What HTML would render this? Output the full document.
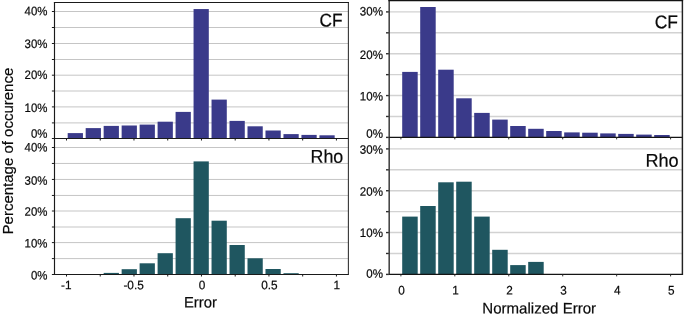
<!DOCTYPE html>
<html lang="en">
<head>
<meta charset="utf-8">
<title>Error histograms</title>
<style>
html,body{margin:0;padding:0;background:#fff;}
body{width:685px;height:315px;overflow:hidden;}
svg{display:block;}
svg text{font-family:"Liberation Sans", sans-serif;fill:#0a0a0a;stroke:#0a0a0a;stroke-width:0.2px;}
</style>
</head>
<body>
<svg width="685" height="315" viewBox="0 0 685 315">
<rect x="0" y="0" width="685" height="315" fill="#ffffff"/>
<g class="grid">
<line x1="54.50" y1="122.90" x2="348.40" y2="122.90" stroke="#c5c5c5" stroke-width="1.0"/>
<line x1="54.50" y1="106.90" x2="348.40" y2="106.90" stroke="#c5c5c5" stroke-width="1.0"/>
<line x1="54.50" y1="91.00" x2="348.40" y2="91.00" stroke="#c5c5c5" stroke-width="1.0"/>
<line x1="54.50" y1="75.20" x2="348.40" y2="75.20" stroke="#c5c5c5" stroke-width="1.0"/>
<line x1="54.50" y1="59.50" x2="348.40" y2="59.50" stroke="#c5c5c5" stroke-width="1.0"/>
<line x1="54.50" y1="43.50" x2="348.40" y2="43.50" stroke="#c5c5c5" stroke-width="1.0"/>
<line x1="54.50" y1="27.50" x2="348.40" y2="27.50" stroke="#c5c5c5" stroke-width="1.0"/>
<line x1="54.50" y1="11.50" x2="348.40" y2="11.50" stroke="#c5c5c5" stroke-width="1.0"/>
</g>
<g class="bars">
<rect x="67.70" y="133.10" width="15.25" height="5.40" fill="#3a3a8a"/>
<rect x="85.68" y="128.10" width="15.25" height="10.40" fill="#3a3a8a"/>
<rect x="103.66" y="125.90" width="15.25" height="12.60" fill="#3a3a8a"/>
<rect x="121.64" y="125.50" width="15.25" height="13.00" fill="#3a3a8a"/>
<rect x="139.62" y="124.60" width="15.25" height="13.90" fill="#3a3a8a"/>
<rect x="157.60" y="121.70" width="15.25" height="16.80" fill="#3a3a8a"/>
<rect x="175.58" y="111.90" width="15.25" height="26.60" fill="#3a3a8a"/>
<rect x="193.56" y="9.05" width="15.25" height="129.45" fill="#3a3a8a"/>
<rect x="211.54" y="99.60" width="15.25" height="38.90" fill="#3a3a8a"/>
<rect x="229.52" y="120.90" width="15.25" height="17.60" fill="#3a3a8a"/>
<rect x="247.50" y="126.30" width="15.25" height="12.20" fill="#3a3a8a"/>
<rect x="265.48" y="130.50" width="15.25" height="8.00" fill="#3a3a8a"/>
<rect x="283.46" y="134.10" width="15.25" height="4.40" fill="#3a3a8a"/>
<rect x="301.44" y="134.90" width="15.25" height="3.60" fill="#3a3a8a"/>
<rect x="319.42" y="135.30" width="15.25" height="3.20" fill="#3a3a8a"/>
</g>
<g class="yticks">
<line x1="51.90" y1="138.50" x2="54.50" y2="138.50" stroke="#1a1a1a" stroke-width="1.0"/>
<line x1="51.90" y1="122.90" x2="54.50" y2="122.90" stroke="#1a1a1a" stroke-width="1.0"/>
<line x1="51.90" y1="106.90" x2="54.50" y2="106.90" stroke="#1a1a1a" stroke-width="1.0"/>
<line x1="51.90" y1="91.00" x2="54.50" y2="91.00" stroke="#1a1a1a" stroke-width="1.0"/>
<line x1="51.90" y1="75.20" x2="54.50" y2="75.20" stroke="#1a1a1a" stroke-width="1.0"/>
<line x1="51.90" y1="59.50" x2="54.50" y2="59.50" stroke="#1a1a1a" stroke-width="1.0"/>
<line x1="51.90" y1="43.50" x2="54.50" y2="43.50" stroke="#1a1a1a" stroke-width="1.0"/>
<line x1="51.90" y1="27.50" x2="54.50" y2="27.50" stroke="#1a1a1a" stroke-width="1.0"/>
<line x1="51.90" y1="11.50" x2="54.50" y2="11.50" stroke="#1a1a1a" stroke-width="1.0"/>
</g>
<g class="grid">
<line x1="54.50" y1="258.60" x2="348.40" y2="258.60" stroke="#c5c5c5" stroke-width="1.0"/>
<line x1="54.50" y1="242.60" x2="348.40" y2="242.60" stroke="#c5c5c5" stroke-width="1.0"/>
<line x1="54.50" y1="227.00" x2="348.40" y2="227.00" stroke="#c5c5c5" stroke-width="1.0"/>
<line x1="54.50" y1="211.00" x2="348.40" y2="211.00" stroke="#c5c5c5" stroke-width="1.0"/>
<line x1="54.50" y1="195.45" x2="348.40" y2="195.45" stroke="#c5c5c5" stroke-width="1.0"/>
<line x1="54.50" y1="179.45" x2="348.40" y2="179.45" stroke="#c5c5c5" stroke-width="1.0"/>
<line x1="54.50" y1="163.45" x2="348.40" y2="163.45" stroke="#c5c5c5" stroke-width="1.0"/>
<line x1="54.50" y1="147.50" x2="348.40" y2="147.50" stroke="#c5c5c5" stroke-width="1.0"/>
</g>
<g class="bars">
<rect x="103.66" y="272.90" width="15.25" height="1.60" fill="#1f5660"/>
<rect x="121.64" y="269.20" width="15.25" height="5.30" fill="#1f5660"/>
<rect x="139.62" y="263.30" width="15.25" height="11.20" fill="#1f5660"/>
<rect x="157.60" y="253.20" width="15.25" height="21.30" fill="#1f5660"/>
<rect x="175.58" y="218.20" width="15.25" height="56.30" fill="#1f5660"/>
<rect x="193.56" y="161.40" width="15.25" height="113.10" fill="#1f5660"/>
<rect x="211.54" y="220.70" width="15.25" height="53.80" fill="#1f5660"/>
<rect x="229.52" y="245.00" width="15.25" height="29.50" fill="#1f5660"/>
<rect x="247.50" y="258.30" width="15.25" height="16.20" fill="#1f5660"/>
<rect x="265.48" y="269.00" width="15.25" height="5.50" fill="#1f5660"/>
<rect x="283.46" y="273.20" width="15.25" height="1.30" fill="#1f5660"/>
</g>
<g class="yticks">
<line x1="51.90" y1="274.50" x2="54.50" y2="274.50" stroke="#1a1a1a" stroke-width="1.0"/>
<line x1="51.90" y1="258.60" x2="54.50" y2="258.60" stroke="#1a1a1a" stroke-width="1.0"/>
<line x1="51.90" y1="242.60" x2="54.50" y2="242.60" stroke="#1a1a1a" stroke-width="1.0"/>
<line x1="51.90" y1="227.00" x2="54.50" y2="227.00" stroke="#1a1a1a" stroke-width="1.0"/>
<line x1="51.90" y1="211.00" x2="54.50" y2="211.00" stroke="#1a1a1a" stroke-width="1.0"/>
<line x1="51.90" y1="195.45" x2="54.50" y2="195.45" stroke="#1a1a1a" stroke-width="1.0"/>
<line x1="51.90" y1="179.45" x2="54.50" y2="179.45" stroke="#1a1a1a" stroke-width="1.0"/>
<line x1="51.90" y1="163.45" x2="54.50" y2="163.45" stroke="#1a1a1a" stroke-width="1.0"/>
<line x1="51.90" y1="147.50" x2="54.50" y2="147.50" stroke="#1a1a1a" stroke-width="1.0"/>
</g>
<g class="grid">
<line x1="389.20" y1="116.48" x2="682.40" y2="116.48" stroke="#d2d2d2" stroke-width="1.4"/>
<line x1="389.20" y1="95.57" x2="682.40" y2="95.57" stroke="#d2d2d2" stroke-width="1.4"/>
<line x1="389.20" y1="74.65" x2="682.40" y2="74.65" stroke="#d2d2d2" stroke-width="1.4"/>
<line x1="389.20" y1="53.73" x2="682.40" y2="53.73" stroke="#d2d2d2" stroke-width="1.4"/>
<line x1="389.20" y1="32.82" x2="682.40" y2="32.82" stroke="#d2d2d2" stroke-width="1.4"/>
<line x1="389.20" y1="11.90" x2="682.40" y2="11.90" stroke="#d2d2d2" stroke-width="1.4"/>
</g>
<g class="bars">
<rect x="402.20" y="71.90" width="15.50" height="65.50" fill="#3a3a8a"/>
<rect x="420.20" y="7.00" width="15.50" height="130.40" fill="#3a3a8a"/>
<rect x="438.20" y="69.70" width="15.50" height="67.70" fill="#3a3a8a"/>
<rect x="456.20" y="98.30" width="15.50" height="39.10" fill="#3a3a8a"/>
<rect x="474.20" y="112.90" width="15.50" height="24.50" fill="#3a3a8a"/>
<rect x="492.20" y="119.60" width="15.50" height="17.80" fill="#3a3a8a"/>
<rect x="510.20" y="126.00" width="15.50" height="11.40" fill="#3a3a8a"/>
<rect x="528.20" y="128.80" width="15.50" height="8.60" fill="#3a3a8a"/>
<rect x="546.20" y="131.00" width="15.50" height="6.40" fill="#3a3a8a"/>
<rect x="564.20" y="132.40" width="15.50" height="5.00" fill="#3a3a8a"/>
<rect x="582.20" y="132.70" width="15.50" height="4.70" fill="#3a3a8a"/>
<rect x="600.20" y="133.40" width="15.50" height="4.00" fill="#3a3a8a"/>
<rect x="618.20" y="133.90" width="15.50" height="3.50" fill="#3a3a8a"/>
<rect x="636.20" y="134.60" width="15.50" height="2.80" fill="#3a3a8a"/>
<rect x="654.20" y="135.00" width="15.50" height="2.40" fill="#3a3a8a"/>
</g>
<g class="yticks">
<line x1="386.00" y1="137.40" x2="389.20" y2="137.40" stroke="#2e2e2e" stroke-width="1.4"/>
<line x1="386.00" y1="116.48" x2="389.20" y2="116.48" stroke="#2e2e2e" stroke-width="1.4"/>
<line x1="386.00" y1="95.57" x2="389.20" y2="95.57" stroke="#2e2e2e" stroke-width="1.4"/>
<line x1="386.00" y1="74.65" x2="389.20" y2="74.65" stroke="#2e2e2e" stroke-width="1.4"/>
<line x1="386.00" y1="53.73" x2="389.20" y2="53.73" stroke="#2e2e2e" stroke-width="1.4"/>
<line x1="386.00" y1="32.82" x2="389.20" y2="32.82" stroke="#2e2e2e" stroke-width="1.4"/>
<line x1="386.00" y1="11.90" x2="389.20" y2="11.90" stroke="#2e2e2e" stroke-width="1.4"/>
</g>
<g class="grid">
<line x1="389.20" y1="253.48" x2="682.40" y2="253.48" stroke="#d2d2d2" stroke-width="1.4"/>
<line x1="389.20" y1="232.57" x2="682.40" y2="232.57" stroke="#d2d2d2" stroke-width="1.4"/>
<line x1="389.20" y1="211.65" x2="682.40" y2="211.65" stroke="#d2d2d2" stroke-width="1.4"/>
<line x1="389.20" y1="190.73" x2="682.40" y2="190.73" stroke="#d2d2d2" stroke-width="1.4"/>
<line x1="389.20" y1="169.82" x2="682.40" y2="169.82" stroke="#d2d2d2" stroke-width="1.4"/>
<line x1="389.20" y1="148.90" x2="682.40" y2="148.90" stroke="#d2d2d2" stroke-width="1.4"/>
</g>
<g class="bars">
<rect x="402.20" y="216.60" width="15.50" height="57.80" fill="#1f5660"/>
<rect x="420.20" y="206.00" width="15.50" height="68.40" fill="#1f5660"/>
<rect x="438.20" y="182.30" width="15.50" height="92.10" fill="#1f5660"/>
<rect x="456.20" y="181.70" width="15.50" height="92.70" fill="#1f5660"/>
<rect x="474.20" y="216.60" width="15.50" height="57.80" fill="#1f5660"/>
<rect x="492.20" y="249.80" width="15.50" height="24.60" fill="#1f5660"/>
<rect x="510.20" y="265.10" width="15.50" height="9.30" fill="#1f5660"/>
<rect x="528.20" y="261.90" width="15.50" height="12.50" fill="#1f5660"/>
</g>
<g class="yticks">
<line x1="386.00" y1="274.40" x2="389.20" y2="274.40" stroke="#2e2e2e" stroke-width="1.4"/>
<line x1="386.00" y1="253.48" x2="389.20" y2="253.48" stroke="#2e2e2e" stroke-width="1.4"/>
<line x1="386.00" y1="232.57" x2="389.20" y2="232.57" stroke="#2e2e2e" stroke-width="1.4"/>
<line x1="386.00" y1="211.65" x2="389.20" y2="211.65" stroke="#2e2e2e" stroke-width="1.4"/>
<line x1="386.00" y1="190.73" x2="389.20" y2="190.73" stroke="#2e2e2e" stroke-width="1.4"/>
<line x1="386.00" y1="169.82" x2="389.20" y2="169.82" stroke="#2e2e2e" stroke-width="1.4"/>
<line x1="386.00" y1="148.90" x2="389.20" y2="148.90" stroke="#2e2e2e" stroke-width="1.4"/>
</g>
<g class="frame">
<line x1="54.50" y1="1.93" x2="54.50" y2="275.07" stroke="#1a1a1a" stroke-width="1.15"/>
<line x1="348.40" y1="1.93" x2="348.40" y2="275.07" stroke="#333333" stroke-width="1.0924999999999998"/>
<line x1="53.92" y1="2.50" x2="348.97" y2="2.50" stroke="#1a1a1a" stroke-width="1.15"/>
<line x1="54.50" y1="138.50" x2="348.40" y2="138.50" stroke="#1a1a1a" stroke-width="1.15"/>
<line x1="54.50" y1="274.50" x2="348.40" y2="274.50" stroke="#1a1a1a" stroke-width="1.15"/>
<line x1="66.50" y1="138.50" x2="66.50" y2="140.50" stroke="#1a1a1a" stroke-width="1.0"/>
<line x1="66.50" y1="274.50" x2="66.50" y2="276.50" stroke="#1a1a1a" stroke-width="1.0"/>
<line x1="100.24" y1="138.50" x2="100.24" y2="140.50" stroke="#1a1a1a" stroke-width="1.0"/>
<line x1="100.24" y1="274.50" x2="100.24" y2="276.50" stroke="#1a1a1a" stroke-width="1.0"/>
<line x1="133.98" y1="138.50" x2="133.98" y2="140.50" stroke="#1a1a1a" stroke-width="1.0"/>
<line x1="133.98" y1="274.50" x2="133.98" y2="276.50" stroke="#1a1a1a" stroke-width="1.0"/>
<line x1="167.72" y1="138.50" x2="167.72" y2="140.50" stroke="#1a1a1a" stroke-width="1.0"/>
<line x1="167.72" y1="274.50" x2="167.72" y2="276.50" stroke="#1a1a1a" stroke-width="1.0"/>
<line x1="201.46" y1="138.50" x2="201.46" y2="140.50" stroke="#1a1a1a" stroke-width="1.0"/>
<line x1="201.46" y1="274.50" x2="201.46" y2="276.50" stroke="#1a1a1a" stroke-width="1.0"/>
<line x1="235.20" y1="138.50" x2="235.20" y2="140.50" stroke="#1a1a1a" stroke-width="1.0"/>
<line x1="235.20" y1="274.50" x2="235.20" y2="276.50" stroke="#1a1a1a" stroke-width="1.0"/>
<line x1="268.94" y1="138.50" x2="268.94" y2="140.50" stroke="#1a1a1a" stroke-width="1.0"/>
<line x1="268.94" y1="274.50" x2="268.94" y2="276.50" stroke="#1a1a1a" stroke-width="1.0"/>
<line x1="302.68" y1="138.50" x2="302.68" y2="140.50" stroke="#1a1a1a" stroke-width="1.0"/>
<line x1="302.68" y1="274.50" x2="302.68" y2="276.50" stroke="#1a1a1a" stroke-width="1.0"/>
<line x1="336.42" y1="138.50" x2="336.42" y2="140.50" stroke="#1a1a1a" stroke-width="1.0"/>
<line x1="336.42" y1="274.50" x2="336.42" y2="276.50" stroke="#1a1a1a" stroke-width="1.0"/>
</g>
<g class="frame">
<line x1="389.20" y1="0.00" x2="389.20" y2="275.00" stroke="#484848" stroke-width="1.6"/>
<line x1="682.40" y1="0.00" x2="682.40" y2="275.00" stroke="#222222" stroke-width="1.45"/>
<line x1="388.40" y1="0.45" x2="683.10" y2="0.45" stroke="#121212" stroke-width="1.5"/>
<line x1="389.20" y1="137.40" x2="682.40" y2="137.40" stroke="#141414" stroke-width="1.3"/>
<line x1="389.20" y1="274.40" x2="682.40" y2="274.40" stroke="#141414" stroke-width="1.3"/>
<line x1="400.90" y1="137.40" x2="400.90" y2="139.40" stroke="#2e2e2e" stroke-width="1.0"/>
<line x1="400.90" y1="274.40" x2="400.90" y2="276.40" stroke="#2e2e2e" stroke-width="1.0"/>
<line x1="454.84" y1="137.40" x2="454.84" y2="139.40" stroke="#2e2e2e" stroke-width="1.0"/>
<line x1="454.84" y1="274.40" x2="454.84" y2="276.40" stroke="#2e2e2e" stroke-width="1.0"/>
<line x1="508.78" y1="137.40" x2="508.78" y2="139.40" stroke="#2e2e2e" stroke-width="1.0"/>
<line x1="508.78" y1="274.40" x2="508.78" y2="276.40" stroke="#2e2e2e" stroke-width="1.0"/>
<line x1="562.72" y1="137.40" x2="562.72" y2="139.40" stroke="#2e2e2e" stroke-width="1.0"/>
<line x1="562.72" y1="274.40" x2="562.72" y2="276.40" stroke="#2e2e2e" stroke-width="1.0"/>
<line x1="616.66" y1="137.40" x2="616.66" y2="139.40" stroke="#2e2e2e" stroke-width="1.0"/>
<line x1="616.66" y1="274.40" x2="616.66" y2="276.40" stroke="#2e2e2e" stroke-width="1.0"/>
<line x1="670.60" y1="137.40" x2="670.60" y2="139.40" stroke="#2e2e2e" stroke-width="1.0"/>
<line x1="670.60" y1="274.40" x2="670.60" y2="276.40" stroke="#2e2e2e" stroke-width="1.0"/>
</g>
<text transform="translate(47.45,15.20) rotate(0.03) scale(0.93,1)" font-size="12.3" text-anchor="end" >40%</text>
<text transform="translate(47.45,48.10) rotate(0.03) scale(0.93,1)" font-size="12.3" text-anchor="end" >30%</text>
<text transform="translate(47.45,79.00) rotate(0.03) scale(0.93,1)" font-size="12.3" text-anchor="end" >20%</text>
<text transform="translate(47.45,112.10) rotate(0.03) scale(0.93,1)" font-size="12.3" text-anchor="end" >10%</text>
<text transform="translate(47.45,137.80) rotate(0.03) scale(0.93,1)" font-size="12.3" text-anchor="end" >0%</text>
<text transform="translate(47.45,151.60) rotate(0.03) scale(0.93,1)" font-size="12.3" text-anchor="end" >40%</text>
<text transform="translate(47.45,184.70) rotate(0.03) scale(0.93,1)" font-size="12.3" text-anchor="end" >30%</text>
<text transform="translate(47.45,215.80) rotate(0.03) scale(0.93,1)" font-size="12.3" text-anchor="end" >20%</text>
<text transform="translate(47.45,247.40) rotate(0.03) scale(0.93,1)" font-size="12.3" text-anchor="end" >10%</text>
<text transform="translate(47.45,279.60) rotate(0.03) scale(0.93,1)" font-size="12.3" text-anchor="end" >0%</text>
<text transform="translate(382.95,15.50) rotate(0.03) scale(0.94,1)" font-size="12.3" text-anchor="end" >30%</text>
<text transform="translate(382.95,58.90) rotate(0.03) scale(0.94,1)" font-size="12.3" text-anchor="end" >20%</text>
<text transform="translate(382.95,100.50) rotate(0.03) scale(0.94,1)" font-size="12.3" text-anchor="end" >10%</text>
<text transform="translate(382.95,137.80) rotate(0.03) scale(0.94,1)" font-size="12.3" text-anchor="end" >0%</text>
<text transform="translate(382.95,153.80) rotate(0.03) scale(0.94,1)" font-size="12.3" text-anchor="end" >30%</text>
<text transform="translate(382.95,195.70) rotate(0.03) scale(0.94,1)" font-size="12.3" text-anchor="end" >20%</text>
<text transform="translate(382.95,237.10) rotate(0.03) scale(0.94,1)" font-size="12.3" text-anchor="end" >10%</text>
<text transform="translate(382.95,277.80) rotate(0.03) scale(0.94,1)" font-size="12.3" text-anchor="end" >0%</text>
<text transform="translate(66.20,289.30) rotate(0.03) scale(0.96,1)" font-size="12.3" text-anchor="middle" >-1</text>
<text transform="translate(133.60,289.30) rotate(0.03) scale(0.96,1)" font-size="12.3" text-anchor="middle" >-0.5</text>
<text transform="translate(202.00,289.30) rotate(0.03) scale(0.96,1)" font-size="12.3" text-anchor="middle" >0</text>
<text transform="translate(269.40,289.30) rotate(0.03) scale(0.96,1)" font-size="12.3" text-anchor="middle" >0.5</text>
<text transform="translate(336.80,289.30) rotate(0.03) scale(0.96,1)" font-size="12.3" text-anchor="middle" >1</text>
<text transform="translate(401.60,294.40) rotate(0.03) scale(0.95,1)" font-size="12.4" text-anchor="middle" >0</text>
<text transform="translate(455.54,294.40) rotate(0.03) scale(0.95,1)" font-size="12.4" text-anchor="middle" >1</text>
<text transform="translate(509.48,294.40) rotate(0.03) scale(0.95,1)" font-size="12.4" text-anchor="middle" >2</text>
<text transform="translate(563.42,294.40) rotate(0.03) scale(0.95,1)" font-size="12.4" text-anchor="middle" >3</text>
<text transform="translate(617.36,294.40) rotate(0.03) scale(0.95,1)" font-size="12.4" text-anchor="middle" >4</text>
<text transform="translate(671.30,294.40) rotate(0.03) scale(0.95,1)" font-size="12.4" text-anchor="middle" >5</text>
<text transform="translate(200.40,307.40) rotate(0.03) scale(0.97,1)" font-size="15.3" text-anchor="middle" >Error</text>
<text transform="translate(539.20,313.55) rotate(0.03) scale(0.985,1)" font-size="15.3" text-anchor="middle" >Normalized Error</text>
<text transform="translate(13.4,151.1) rotate(-90) scale(1,1.02)" font-size="15.0" text-anchor="middle">Percentage of occurence</text>
<text transform="translate(342.60,26.50) rotate(0.03) scale(0.94,1)" font-size="18.4" text-anchor="end" >CF</text>
<text transform="translate(343.30,162.70) rotate(0.03) scale(0.97,1)" font-size="18.4" text-anchor="end" >Rho</text>
<text transform="translate(678.00,28.30) rotate(0.03) scale(0.95,1)" font-size="18.4" text-anchor="end" >CF</text>
<text transform="translate(678.70,166.70) rotate(0.03) scale(0.985,1)" font-size="18.4" text-anchor="end" >Rho</text>
</svg>
</body>
</html>
